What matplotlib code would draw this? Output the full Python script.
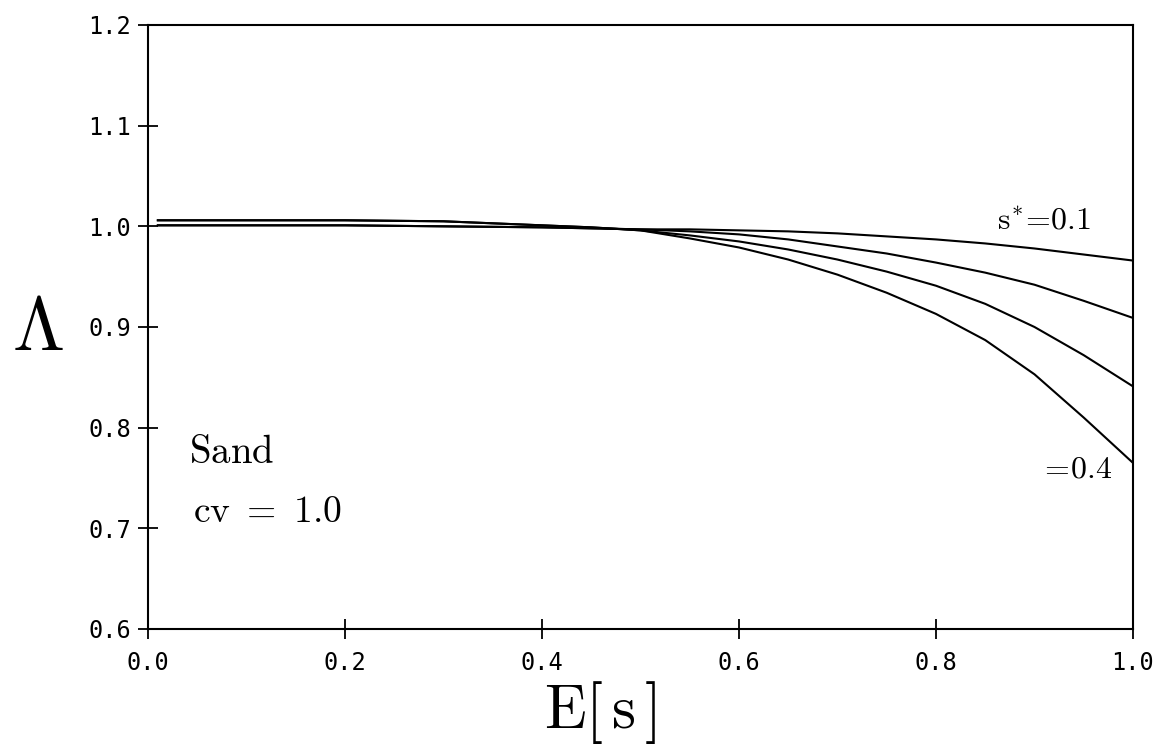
import matplotlib
matplotlib.use("Agg")
import matplotlib.pyplot as plt
import numpy as np

# ---- data ----
E = [0.01, 0.1, 0.2, 0.3, 0.4, 0.45, 0.5, 0.55, 0.6, 0.65, 0.7, 0.75, 0.8, 0.85, 0.9, 0.95, 1.0]
lam_s01 = [1.001, 1.001, 1.001, 1.000, 0.999, 0.998, 0.997, 0.997, 0.996, 0.995, 0.993, 0.990, 0.987, 0.983, 0.978, 0.972, 0.966]
lam_s02 = [1.001, 1.001, 1.001, 1.000, 0.999, 0.998, 0.997, 0.995, 0.992, 0.987, 0.980, 0.973, 0.964, 0.954, 0.942, 0.926, 0.909]
lam_s03 = [1.006, 1.006, 1.006, 1.005, 1.001, 0.999, 0.996, 0.991, 0.985, 0.977, 0.967, 0.955, 0.941, 0.923, 0.900, 0.872, 0.841]
lam_s04 = [1.006, 1.006, 1.006, 1.005, 1.001, 0.999, 0.996, 0.988, 0.979, 0.967, 0.952, 0.934, 0.913, 0.887, 0.853, 0.810, 0.765]
series = [lam_s01, lam_s02, lam_s03, lam_s04]

xticks = [0.0, 0.2, 0.4, 0.6, 0.8, 1.0]
yticks = [0.6, 0.7, 0.8, 0.9, 1.0, 1.1, 1.2]

W, H = 1164, 745
plt.rcParams["mathtext.fontset"] = "cm"
fig = plt.figure(figsize=(W / 100, H / 100), dpi=100)
ax = fig.add_axes([148 / W, 1 - 629 / H, (1133 - 148) / W, (629 - 25) / H])

for s in series:
    ax.plot(E, s, color="black", lw=1.5)

ax.set_xlim(0.0, 1.0)
ax.set_ylim(0.6, 1.2)
ax.set_xticks(xticks)
ax.set_yticks(yticks)
ax.set_xticklabels([f"{v:.1f}" for v in xticks])
ax.set_yticklabels([f"{v:.1f}" for v in yticks])
ax.tick_params(direction="inout", length=14, width=1.3, labelsize=17,
               top=False, right=False)
ax.tick_params(axis="x", pad=9)
ax.tick_params(axis="y", pad=5)
for lab in ax.get_xticklabels() + ax.get_yticklabels():
    lab.set_family("DejaVu Sans Mono")
for sp in ax.spines.values():
    sp.set_linewidth(1.5)

ax.text(0.042, 0.765, r"$\mathrm{Sand}$", fontsize=28, ha="left", va="baseline")
ax.text(0.046, 0.706, r"$\mathrm{cv\ =\ 1.0}$", fontsize=27, ha="left", va="baseline")
ax.text(0.862, 0.9964, r"$\mathrm{s^{*}\!=\!0.1}$", fontsize=23, ha="left", va="baseline")
ax.text(0.905, 0.750, r"$\mathrm{=\!0.4}$", fontsize=23, ha="left", va="baseline")

fig.text(38 / W, 1 - 330 / H, r"$\Lambda$", fontsize=54, ha="center", va="center")
fig.text(600 / W, 1 - 712 / H, r"$\mathrm{E[\,s\,]}$", fontsize=44,
         ha="center", va="center")

fig.savefig("out.png", dpi=100)
